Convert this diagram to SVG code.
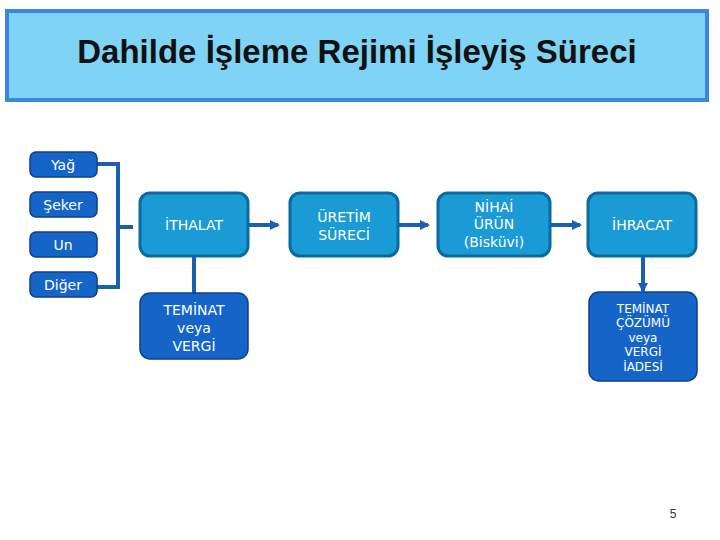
<svg xmlns="http://www.w3.org/2000/svg" width="720" height="540" viewBox="0 0 720 540">
<defs>
<marker id="ah" markerWidth="10" markerHeight="10" refX="8" refY="5" orient="auto" markerUnits="userSpaceOnUse"><path d="M0,0 L10,5 L0,10 z" fill="#1a5fb0"/></marker>
<style>
.sm{fill:#1565c8;stroke:#0d3f8a;stroke-width:1.5}
.main{fill:#1a9bd6;stroke:#0b6a9e;stroke-width:3}
.dk{fill:#1565c8;stroke:#0d3f8a;stroke-width:1.5}
.t{font-family:"DejaVu Sans",sans-serif;fill:#fff;text-anchor:middle;font-size:14px}
.c{stroke:#1a5fb0;stroke-width:4;fill:none}
</style>
</defs>
<rect width="720" height="540" fill="#fff"/>
<g id="title"><rect x="7" y="11" width="700" height="89" fill="#7fd3f5" stroke="#3a86e0" stroke-width="4"/>
<text x="357" y="63" font-family="Liberation Sans,sans-serif" font-size="33" font-weight="bold" fill="#111" text-anchor="middle">Dahilde İşleme Rejimi İşleyiş Süreci</text></g>
<g id="connectors">
<path class="c" d="M96,164 H118 V287 H96 M118,227 H133"/>
<path class="c" d="M248,225 H278" marker-end="url(#ah)"/>
<path class="c" d="M398,225 H428" marker-end="url(#ah)"/>
<path class="c" d="M550,225 H580" marker-end="url(#ah)"/>
<path class="c" d="M194,257 V294"/>
<path class="c" d="M643,257 V291" marker-end="url(#ah)"/>
</g>
<g id="yag"><rect class="sm" x="30" y="152" width="67" height="25" rx="6"/><text class="t" x="63" y="170">Yağ</text></g>
<g id="seker"><rect class="sm" x="30" y="192" width="67" height="25" rx="6"/><text class="t" x="63" y="210">Şeker</text></g>
<g id="un"><rect class="sm" x="30" y="232" width="67" height="25" rx="6"/><text class="t" x="63" y="250">Un</text></g>
<g id="diger"><rect class="sm" x="30" y="272" width="67" height="25" rx="6"/><text class="t" x="63" y="290">Diğer</text></g>
<g id="ithalat"><rect class="main" x="140" y="193" width="108" height="63" rx="10"/><text class="t" x="194" y="230">İTHALAT</text></g>
<g id="uretim"><rect class="main" x="290" y="193" width="108" height="63" rx="10"/><text class="t" x="344" y="222">ÜRETİM</text><text class="t" x="344" y="240">SÜRECİ</text></g>
<g id="nihai"><rect class="main" x="438" y="193" width="112" height="63" rx="10"/><text class="t" x="494" y="212">NİHAİ</text><text class="t" x="494" y="229">ÜRÜN</text><text class="t" x="494" y="247">(Bisküvi)</text></g>
<g id="ihracat"><rect class="main" x="588" y="193" width="108" height="63" rx="10"/><text class="t" x="642" y="230">İHRACAT</text></g>
<g id="teminat"><rect class="dk" x="140" y="293" width="108" height="66" rx="10"/><text class="t" x="194" y="315">TEMİNAT</text><text class="t" x="194" y="333">veya</text><text class="t" x="194" y="351">VERGİ</text></g>
<g id="cozum"><rect class="dk" x="589" y="292" width="108" height="89" rx="10"/>
<text class="t" x="643" y="313" style="font-size:12px">TEMİNAT</text><text class="t" x="643" y="327" style="font-size:12px">ÇÖZÜMÜ</text><text class="t" x="643" y="342" style="font-size:12px">veya</text><text class="t" x="643" y="356" style="font-size:12px">VERGİ</text><text class="t" x="643" y="371" style="font-size:12px">İADESİ</text></g>
<text x="673" y="518" font-family="Liberation Sans,sans-serif" font-size="12" fill="#333" text-anchor="middle">5</text>
</svg>
